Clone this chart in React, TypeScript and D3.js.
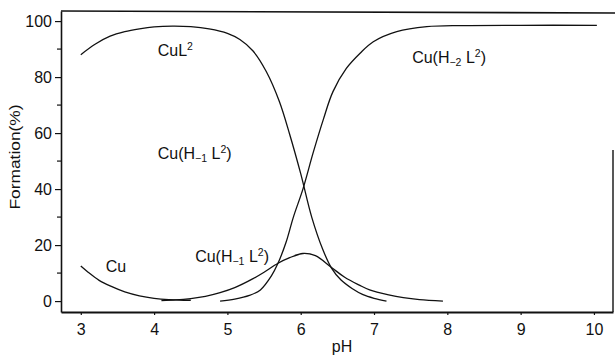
import React, { useRef, useEffect } from 'react';
import * as d3 from 'd3';

// species distribution curves (pH, formation %)
const cuPH = [3.0, 3.1, 3.25, 3.4, 3.6, 3.8, 4.0, 4.2, 4.4, 4.5];
const cuVal = [12.5, 10.3, 7.4, 5.4, 3.3, 1.9, 1.0, 0.5, 0.3, 0.3];

const cuL2PH = [3.0, 3.2, 3.4, 3.6, 3.8, 4.0, 4.25, 4.5, 4.75, 5.0, 5.17, 5.35, 5.53, 5.71, 5.85, 6.0, 6.15, 6.3, 6.42, 6.55, 6.7, 6.85, 7.0, 7.17];
const cuL2Val = [88, 91.8, 94.6, 96.2, 97.2, 97.9, 98.2, 98.0, 97.2, 95.6, 93.4, 89.3, 82, 71.2, 59.5, 45.5, 30, 18.5, 11.8, 7.5, 4.5, 2.3, 1.0, 0];

const cuH1PH = [4.1, 4.3, 4.5, 4.7, 4.9, 5.1, 5.35, 5.5, 5.69, 5.85, 6.03, 6.2, 6.42, 6.6, 6.8, 6.94, 7.2, 7.4, 7.62, 7.94];
const cuH1Val = [0.2, 0.4, 0.9, 1.7, 3.0, 4.8, 8.0, 10.3, 13.5, 15.5, 17, 16.2, 12, 8.5, 5.7, 4.0, 2.2, 1.2, 0.5, 0];

const cuH2PH = [4.9, 5.1, 5.3, 5.45, 5.6, 5.69, 5.8, 5.9, 6.03, 6.17, 6.31, 6.44, 6.62, 6.81, 6.99, 7.31, 7.72, 8.2, 9.0, 10.04];
const cuH2Val = [0, 0.7, 2, 4, 9, 13.5, 21, 30, 40, 53, 65, 74.8, 83, 88.5, 92.6, 96.2, 98, 98.4, 98.5, 98.5];

const xTicks = [3, 4, 5, 6, 7, 8, 9, 10];
const yTicks = [0, 20, 40, 60, 80, 100];
const yMinorTicks = [10, 30, 50, 70, 90];

// label: [pH, %, main, sub, sup]
const labels: [number, number, string, string, string][] = [
  [4.05, 87.6, 'CuL', '', '2'],
  [4.05, 50.7, 'Cu(H', '−1', '2'],
  [7.52, 85.2, 'Cu(H', '−2', '2'],
  [3.34, 10.4, 'Cu', '', ''],
  [4.56, 14, 'Cu(H', '−1', '2'],
];

const App = () => {
  const svgRef = useRef<SVGSVGElement>(null);

  useEffect(() => {
    const svg = d3.select(svgRef.current);
    svg.selectAll('*').remove();

    const font = 'Liberation Sans, Arial, Helvetica, sans-serif';
    const x = d3.scaleLinear().domain([2.73, 10.26]).range([61, 613]);
    const y = d3.scaleLinear().domain([-3.9, 103.6]).range([312, 11]);

    // frame
    svg.append('line').attr('x1', 61).attr('x2', 615).attr('y1', 11).attr('y2', 13)
      .attr('stroke', '#111').attr('stroke-width', 1.6);
    svg.append('line').attr('x1', 613).attr('x2', 613).attr('y1', 150).attr('y2', 312)
      .attr('stroke', '#111').attr('stroke-width', 1.4);

    const yAxis = svg.append('g')
      .attr('transform', 'translate(61,0)')
      .call(d3.axisLeft(y).tickValues(yTicks).tickSize(6).tickPadding(3).tickSizeOuter(0));
    yAxis.select('.domain').attr('stroke', '#111').attr('stroke-width', 1.6);
    yAxis.selectAll('.tick line').attr('stroke', '#111').attr('stroke-width', 1.2);
    yAxis.selectAll('text').attr('font-family', font).attr('font-size', 16).attr('fill', '#111');

    svg.append('g')
      .selectAll('line')
      .data(yMinorTicks)
      .enter().append('line')
      .attr('x1', 57).attr('x2', 61)
      .attr('y1', d => y(d)).attr('y2', d => y(d))
      .attr('stroke', '#111').attr('stroke-width', 1.2);

    const xAxis = svg.append('g')
      .attr('transform', 'translate(0,312)')
      .call(d3.axisBottom(x).tickValues(xTicks).tickFormat(d3.format('d')).tickSize(3).tickPadding(9).tickSizeOuter(0));
    xAxis.select('.domain').attr('stroke', '#111').attr('stroke-width', 2);
    xAxis.selectAll('.tick line').attr('stroke', '#111').attr('stroke-width', 1.2);
    xAxis.selectAll('text').attr('font-family', font).attr('font-size', 16).attr('fill', '#111');

    const line = d3.line<[number, number]>()
      .x(d => x(d[0]))
      .y(d => y(d[1]))
      .curve(d3.curveCatmullRom.alpha(0.5));

    const series: [number[], number[]][] = [
      [cuPH, cuVal],
      [cuL2PH, cuL2Val],
      [cuH1PH, cuH1Val],
      [cuH2PH, cuH2Val],
    ];
    series.forEach(([ph, v]) => {
      svg.append('path')
        .datum(ph.map((p, i) => [p, v[i]] as [number, number]))
        .attr('d', line)
        .attr('fill', 'none')
        .attr('stroke', '#111')
        .attr('stroke-width', 1.3);
    });

    labels.forEach(([ph, val, main, sub, sup]) => {
      const t = svg.append('text')
        .attr('x', x(ph)).attr('y', y(val))
        .attr('font-family', font).attr('font-size', 16).attr('fill', '#111');
      t.append('tspan').text(main);
      if (sub) {
        t.append('tspan').attr('font-size', 10.5).attr('dy', 3).text(sub);
        t.append('tspan').attr('dy', -3).text(' L');
      }
      if (sup) {
        t.append('tspan').attr('font-size', 10.5).attr('dy', -6).text(sup);
        if (sub) t.append('tspan').attr('dy', 6).text(')');
      }
    });

    svg.append('text')
      .attr('x', 342).attr('y', 352)
      .attr('text-anchor', 'middle')
      .attr('font-family', font).attr('font-size', 16).attr('fill', '#111')
      .text('pH');

    svg.append('text')
      .attr('transform', 'translate(20,157) rotate(-90)')
      .attr('text-anchor', 'middle')
      .attr('font-family', font).attr('font-size', 14).attr('fill', '#111')
      .attr('textLength', 105).attr('lengthAdjust', 'spacingAndGlyphs')
      .text('Formation(%)');
  }, []);

  return (
    <svg ref={svgRef} width={615} height={355}
      style={{ position: 'absolute', left: 0, top: 0, background: '#fff' }} />
  );
};

export default App;
